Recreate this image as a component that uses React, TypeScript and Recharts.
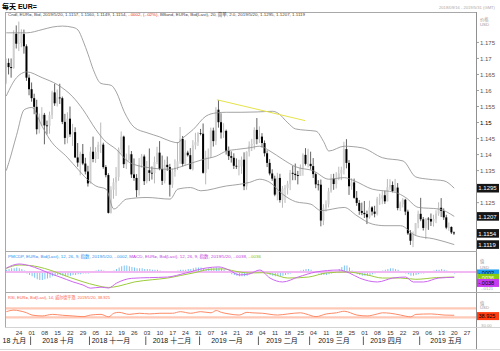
import React from 'react';
import { ComposedChart, Bar, Line, XAxis, YAxis, ReferenceLine } from 'recharts';

const FONT = "'Liberation Sans', 'Noto Sans CJK SC', sans-serif";

// trading-day index: 0 = 2018-09-17 ... 175 = 2019-05-20
const opens = [
  1.1625, 1.1686, 1.1673, 1.1670, 1.1777, 1.1746, 1.1748, 1.1776, 1.1738, 1.1640,
  1.1604, 1.1576, 1.1549, 1.1479, 1.1512, 1.1524, 1.1491, 1.1490, 1.1523, 1.1594,
  1.1560, 1.1578, 1.1576, 1.1502, 1.1452, 1.1512, 1.1463, 1.1470, 1.1391, 1.1375,
  1.1402, 1.1372, 1.1347, 1.1310, 1.1409, 1.1386, 1.1408, 1.1430, 1.1431, 1.1361,
  1.1336, 1.1218, 1.1290, 1.1313, 1.1330, 1.1416, 1.1456, 1.1370, 1.1384, 1.1401,
  1.1338, 1.1327, 1.1289, 1.1369, 1.1394, 1.1317, 1.1351, 1.1343, 1.1342, 1.1377,
  1.1406, 1.1355, 1.1318, 1.1368, 1.1361, 1.1306, 1.1347, 1.1360, 1.1379, 1.1449,
  1.1371, 1.1406, 1.1398, 1.1355, 1.1429, 1.1439, 1.1467, 1.1465, 1.1343, 1.1392,
  1.1394, 1.1475, 1.1442, 1.1540, 1.1501, 1.1469, 1.1474, 1.1412, 1.1395, 1.1390,
  1.1365, 1.1363, 1.1363, 1.1384, 1.1301, 1.1409, 1.1428, 1.1433, 1.1477, 1.1448,
  1.1456, 1.1436, 1.1404, 1.1374, 1.1341, 1.1325, 1.1275, 1.1327, 1.1258, 1.1294,
  1.1295, 1.1309, 1.1343, 1.1340, 1.1336, 1.1333, 1.1359, 1.1399, 1.1371, 1.1371,
  1.1364, 1.1339, 1.1307, 1.1306, 1.1194, 1.1234, 1.1245, 1.1285, 1.1325, 1.1308,
  1.1325, 1.1341, 1.1352, 1.1417, 1.1374, 1.1301, 1.1313, 1.1265, 1.1249, 1.1224,
  1.1218, 1.1214, 1.1204, 1.1235, 1.1222, 1.1215, 1.1262, 1.1263, 1.1273, 1.1254,
  1.1298, 1.1305, 1.1286, 1.1297, 1.1233, 1.1245, 1.1259, 1.1222, 1.1154, 1.1131,
  1.1150, 1.1186, 1.1215, 1.1198, 1.1171, 1.1200, 1.1199, 1.1191, 1.1199, 1.1216,
  1.1234, 1.1224, 1.1204, 1.1172, 1.1174, 1.1157,
];
const highs = [
  1.1700, 1.1700, 1.1700, 1.1788, 1.1803, 1.1815, 1.1791, 1.1790, 1.1744, 1.1650,
  1.1625, 1.1590, 1.1571, 1.1528, 1.1548, 1.1530, 1.1506, 1.1534, 1.1599, 1.1621,
  1.1603, 1.1621, 1.1581, 1.1527, 1.1532, 1.1550, 1.1496, 1.1485, 1.1436, 1.1409,
  1.1433, 1.1390, 1.1365, 1.1424, 1.1456, 1.1423, 1.1440, 1.1500, 1.1437, 1.1367,
  1.1342, 1.1301, 1.1326, 1.1361, 1.1422, 1.1472, 1.1459, 1.1403, 1.1429, 1.1411,
  1.1388, 1.1339, 1.1389, 1.1402, 1.1400, 1.1380, 1.1419, 1.1363, 1.1394, 1.1424,
  1.1442, 1.1397, 1.1384, 1.1394, 1.1371, 1.1356, 1.1385, 1.1439, 1.1486, 1.1458,
  1.1445, 1.1412, 1.1420, 1.1445, 1.1468, 1.1470, 1.1480, 1.1497, 1.1412, 1.1419,
  1.1484, 1.1484, 1.1548, 1.1570, 1.1529, 1.1498, 1.1478, 1.1425, 1.1410, 1.1404,
  1.1388, 1.1384, 1.1394, 1.1407, 1.1410, 1.1441, 1.1449, 1.1485, 1.1514, 1.1488,
  1.1467, 1.1444, 1.1413, 1.1386, 1.1354, 1.1334, 1.1343, 1.1340, 1.1302, 1.1305,
  1.1318, 1.1352, 1.1365, 1.1372, 1.1349, 1.1369, 1.1404, 1.1420, 1.1418, 1.1409,
  1.1389, 1.1344, 1.1320, 1.1322, 1.1245, 1.1257, 1.1296, 1.1339, 1.1340, 1.1345,
  1.1362, 1.1362, 1.1440, 1.1448, 1.1383, 1.1326, 1.1325, 1.1286, 1.1258, 1.1250,
  1.1255, 1.1225, 1.1256, 1.1239, 1.1240, 1.1268, 1.1278, 1.1286, 1.1287, 1.1324,
  1.1323, 1.1316, 1.1324, 1.1311, 1.1253, 1.1264, 1.1262, 1.1228, 1.1164, 1.1160,
  1.1186, 1.1225, 1.1265, 1.1205, 1.1201, 1.1205, 1.1216, 1.1212, 1.1226, 1.1251,
  1.1264, 1.1232, 1.1212, 1.1188, 1.1176, 1.1160,
];
const lows = [
  1.1620, 1.1650, 1.1640, 1.1668, 1.1731, 1.1723, 1.1735, 1.1715, 1.1630, 1.1585,
  1.1565, 1.1526, 1.1463, 1.1466, 1.1489, 1.1432, 1.1463, 1.1465, 1.1511, 1.1552,
  1.1550, 1.1558, 1.1495, 1.1432, 1.1435, 1.1455, 1.1427, 1.1389, 1.1362, 1.1335,
  1.1367, 1.1338, 1.1300, 1.1310, 1.1376, 1.1374, 1.1386, 1.1405, 1.1356, 1.1329,
  1.1216, 1.1216, 1.1262, 1.1271, 1.1318, 1.1403, 1.1358, 1.1355, 1.1380, 1.1327,
  1.1318, 1.1267, 1.1272, 1.1359, 1.1305, 1.1310, 1.1317, 1.1322, 1.1310, 1.1370,
  1.1351, 1.1305, 1.1310, 1.1349, 1.1269, 1.1296, 1.1331, 1.1352, 1.1371, 1.1363,
  1.1366, 1.1394, 1.1353, 1.1350, 1.1416, 1.1427, 1.1460, 1.1340, 1.1307, 1.1354,
  1.1390, 1.1425, 1.1430, 1.1484, 1.1450, 1.1452, 1.1400, 1.1383, 1.1375, 1.1355,
  1.1355, 1.1335, 1.1340, 1.1289, 1.1290, 1.1394, 1.1411, 1.1416, 1.1432, 1.1436,
  1.1422, 1.1394, 1.1361, 1.1335, 1.1318, 1.1270, 1.1257, 1.1250, 1.1234, 1.1249,
  1.1275, 1.1289, 1.1320, 1.1320, 1.1307, 1.1333, 1.1334, 1.1366, 1.1360, 1.1353,
  1.1327, 1.1295, 1.1288, 1.1176, 1.1180, 1.1222, 1.1235, 1.1281, 1.1290, 1.1294,
  1.1320, 1.1320, 1.1338, 1.1357, 1.1274, 1.1290, 1.1262, 1.1240, 1.1212, 1.1211,
  1.1202, 1.1183, 1.1200, 1.1210, 1.1204, 1.1210, 1.1243, 1.1245, 1.1246, 1.1254,
  1.1290, 1.1282, 1.1284, 1.1226, 1.1224, 1.1235, 1.1211, 1.1149, 1.1118, 1.1111,
  1.1148, 1.1170, 1.1192, 1.1163, 1.1136, 1.1165, 1.1177, 1.1175, 1.1186, 1.1209,
  1.1205, 1.1196, 1.1167, 1.1162, 1.1152, 1.1149,
];
const closes = [
  1.1686, 1.1673, 1.1670, 1.1777, 1.1746, 1.1748, 1.1776, 1.1738, 1.1640, 1.1604,
  1.1576, 1.1549, 1.1479, 1.1512, 1.1524, 1.1491, 1.1490, 1.1523, 1.1594, 1.1560,
  1.1578, 1.1576, 1.1502, 1.1452, 1.1512, 1.1463, 1.1470, 1.1391, 1.1375, 1.1402,
  1.1372, 1.1347, 1.1310, 1.1409, 1.1386, 1.1408, 1.1430, 1.1431, 1.1361, 1.1336,
  1.1218, 1.1290, 1.1313, 1.1330, 1.1416, 1.1456, 1.1370, 1.1384, 1.1401, 1.1338,
  1.1327, 1.1289, 1.1369, 1.1394, 1.1317, 1.1351, 1.1343, 1.1342, 1.1377, 1.1406,
  1.1355, 1.1318, 1.1368, 1.1361, 1.1306, 1.1347, 1.1360, 1.1379, 1.1449, 1.1371,
  1.1406, 1.1398, 1.1355, 1.1429, 1.1439, 1.1467, 1.1465, 1.1343, 1.1392, 1.1394,
  1.1475, 1.1442, 1.1540, 1.1501, 1.1469, 1.1474, 1.1412, 1.1395, 1.1390, 1.1365,
  1.1363, 1.1363, 1.1384, 1.1301, 1.1409, 1.1428, 1.1433, 1.1477, 1.1448, 1.1456,
  1.1436, 1.1404, 1.1374, 1.1341, 1.1325, 1.1275, 1.1327, 1.1258, 1.1294, 1.1295,
  1.1309, 1.1343, 1.1340, 1.1336, 1.1333, 1.1359, 1.1399, 1.1371, 1.1371, 1.1364,
  1.1339, 1.1307, 1.1306, 1.1194, 1.1234, 1.1245, 1.1285, 1.1325, 1.1308, 1.1325,
  1.1341, 1.1352, 1.1417, 1.1374, 1.1301, 1.1313, 1.1265, 1.1249, 1.1224, 1.1218,
  1.1214, 1.1204, 1.1235, 1.1222, 1.1215, 1.1262, 1.1263, 1.1273, 1.1254, 1.1298,
  1.1305, 1.1286, 1.1297, 1.1233, 1.1245, 1.1259, 1.1222, 1.1154, 1.1131, 1.1150,
  1.1186, 1.1215, 1.1198, 1.1171, 1.1200, 1.1199, 1.1191, 1.1199, 1.1216, 1.1234,
  1.1224, 1.1204, 1.1172, 1.1174, 1.1157, 1.1154,
];

// Bollinger bands (20, 2.0)
const upperIdx = [0, 8, 14, 18, 22, 26, 28, 30, 32, 34, 37, 41, 43, 46, 50, 55, 60, 64, 67, 69, 73, 78, 82, 86, 92, 98, 104, 106, 110, 113, 117, 121, 124, 126, 132, 139, 147, 155, 160, 165, 171, 175];
const upperVal = [1.1780, 1.1780, 1.1790, 1.1798, 1.1801, 1.1797, 1.1789, 1.1755, 1.1712, 1.1665, 1.1622, 1.1616, 1.1595, 1.1535, 1.1485, 1.1468, 1.1455, 1.1442, 1.1437, 1.1452, 1.1478, 1.1520, 1.1530, 1.1532, 1.1532, 1.1533, 1.1535, 1.1530, 1.1499, 1.1480, 1.1476, 1.1473, 1.1440, 1.1411, 1.1426, 1.1421, 1.1390, 1.1380, 1.1330, 1.1323, 1.1318, 1.1295];
const midIdx = [0, 4, 8, 14, 20, 26, 30, 35, 38, 43, 48, 55, 64, 69, 73, 77, 82, 86, 90, 95, 99, 103, 108, 113, 120, 126, 132, 136, 143, 152, 156, 161, 169, 175];
const midVal = [1.1583, 1.1640, 1.1658, 1.1640, 1.1618, 1.1580, 1.1540, 1.1478, 1.1447, 1.1416, 1.1376, 1.1360, 1.1354, 1.1364, 1.1375, 1.1385, 1.1395, 1.1411, 1.1416, 1.1421, 1.1426, 1.1411, 1.1385, 1.1362, 1.1349, 1.1323, 1.1328, 1.1318, 1.1292, 1.1282, 1.1266, 1.1235, 1.1230, 1.1207];
const lowerIdx = [0, 1, 4, 7, 10, 14, 17, 24, 28, 33, 35, 39, 42, 47, 55, 64, 67, 72, 76, 86, 91, 95, 99, 103, 108, 113, 119, 123, 132, 137, 143, 148, 154, 160, 167, 175];
const lowerVal = [1.1350, 1.1375, 1.1460, 1.1540, 1.1547, 1.1488, 1.1447, 1.1390, 1.1354, 1.1313, 1.1302, 1.1292, 1.1230, 1.1261, 1.1266, 1.1261, 1.1292, 1.1297, 1.1287, 1.1302, 1.1307, 1.1313, 1.1323, 1.1313, 1.1276, 1.1253, 1.1245, 1.1225, 1.1235, 1.1209, 1.1183, 1.1178, 1.1178, 1.1147, 1.1137, 1.1119];

// yellow trend line (drawn annotation)
const trendStart = { x: 82.3, y: 1.1571 };
const trendEnd = { x: 116.7, y: 1.1506 };

// MACD (12, 26, 9)
const macdHist = [
  0.0003, 0.0004, 0.0005, 0.0005, 0.0006, 0.0005, 0.0004, 0.0002, -0.0002, -0.0004,
  -0.0006, -0.0008, -0.0010, -0.0011, -0.0011, -0.0010, -0.0009, -0.0008, -0.0006, -0.0005,
  -0.0004, -0.0004, -0.0005, -0.0006, -0.0005, -0.0005, -0.0004, -0.0004, -0.0003, -0.0003,
  -0.0002, -0.0002, -0.0002, -0.0001, 0.0001, 0.0002, 0.0003, 0.0003, 0.0002, 0.0001,
  -0.0001, 0.0000, 0.0002, 0.0004, 0.0006, 0.0008, 0.0009, 0.0009, 0.0008, 0.0007,
  0.0006, 0.0005, 0.0005, 0.0005, 0.0004, 0.0004, 0.0004, 0.0003, 0.0003, 0.0003,
  0.0002, 0.0001, 0.0001, 0.0001, 0.0000, 0.0001, 0.0001, 0.0002, 0.0003, 0.0003,
  0.0003, 0.0004, 0.0004, 0.0005, 0.0006, 0.0006, 0.0006, 0.0005, 0.0004, 0.0005,
  0.0005, 0.0005, 0.0006, 0.0006, 0.0005, 0.0003, 0.0001, -0.0001, -0.0003, -0.0004,
  -0.0005, -0.0006, -0.0006, -0.0006, -0.0005, -0.0003, -0.0001, 0.0001, 0.0002, 0.0002,
  0.0001, 0.0000, -0.0002, -0.0004, -0.0005, -0.0006, -0.0006, -0.0006, -0.0005, -0.0004,
  -0.0003, -0.0002, -0.0001, 0.0000, 0.0001, 0.0002, 0.0003, 0.0004, 0.0004, 0.0003,
  0.0001, -0.0001, -0.0002, -0.0004, -0.0004, -0.0004, -0.0003, -0.0002, -0.0001, 0.0001,
  0.0004, 0.0007, 0.0009, 0.0009, 0.0006, 0.0002, -0.0001, -0.0003, -0.0004, -0.0005,
  -0.0005, -0.0005, -0.0004, -0.0003, -0.0002, -0.0001, 0.0001, 0.0002, 0.0003, 0.0004,
  0.0005, 0.0005, 0.0004, 0.0003, 0.0001, 0.0000, -0.0002, -0.0003, -0.0005, -0.0005,
  -0.0004, -0.0003, -0.0002, -0.0002, -0.0001, 0.0000, 0.0001, 0.0002, 0.0003, 0.0003,
  0.0004, 0.0003, 0.0002, 0.0001, 0.0000, -0.0002,
];
const macdIdx = [0, 5, 9, 13, 17, 21, 26, 30, 33, 37, 40, 43, 49, 56, 63, 70, 78, 83, 87, 91, 95, 99, 103, 108, 114, 121, 130, 134, 138, 145, 151, 156, 159, 163, 169, 175];
const macdVal = [0.0028, 0.0057, 0.0045, 0.0020, -0.0010, -0.0036, -0.0070, -0.0093, -0.0115, -0.0108, -0.0114, -0.0080, -0.0045, -0.0040, -0.0036, -0.0008, 0.0028, 0.0036, 0.0014, -0.0021, -0.0014, 0.0014, -0.0043, -0.0071, -0.0036, 0.0000, 0.0014, -0.0007, -0.0043, -0.0071, -0.0043, -0.0036, -0.0071, -0.0071, -0.0043, -0.0038];
const signalIdx = [0, 5, 10, 15, 20, 25, 30, 35, 40, 44, 50, 57, 63, 68, 73, 80, 85, 89, 95, 100, 104, 110, 118, 125, 133, 141, 147, 154, 160, 168, 175];
const signalVal = [0.0025, 0.0050, 0.0045, 0.0025, -0.0005, -0.0040, -0.0070, -0.0095, -0.0110, -0.0100, -0.0071, -0.0055, -0.0043, -0.0025, -0.0007, 0.0020, 0.0022, 0.0007, -0.0007, -0.0005, -0.0015, -0.0043, -0.0036, -0.0007, 0.0000, -0.0021, -0.0043, -0.0043, -0.0052, -0.0040, -0.0036];

// RSI (14)
const rsiIdx = [0, 3, 5, 8, 10, 14, 18, 22, 26, 30, 33, 37, 40, 42, 44, 48, 52, 56, 60, 65, 68, 72, 76, 80, 82, 84, 87, 91, 94, 96, 100, 106, 110, 115, 117, 121, 125, 129, 132, 137, 141, 145, 147, 150, 154, 158, 160, 166, 171, 175];
const rsiVal = [55, 62, 59, 50, 40, 36, 43, 39, 36, 33, 40, 43, 32, 48, 52, 43, 48, 45, 48, 48, 55, 48, 55, 50, 60, 52, 45, 40, 52, 50, 48, 40, 45, 50, 45, 33, 45, 50, 57, 40, 36, 45, 50, 48, 40, 32, 43, 45, 40, 38.925];

// axis labels
const priceTicks = [1.1119, 1.1154, 1.1207, 1.125, 1.1295, 1.135, 1.14, 1.145, 1.15, 1.155, 1.16, 1.165, 1.17, 1.175];
const priceTags = [1.1119, 1.1154, 1.1207, 1.1295];
const dayTickIdx = [5, 10, 15, 20, 25, 30, 35, 40, 45, 50, 55, 60, 65, 70, 75, 80, 85, 90, 95, 100, 105, 110, 115, 120, 125, 130, 135, 140, 145, 150, 155, 160, 165, 170, 175, 180];
const dayTickLabels = ['24', '01', '08', '15', '22', '29', '05', '12', '19', '26', '03', '10', '17', '24', '31', '07', '14', '21', '28', '04', '11', '18', '25', '04', '11', '18', '25', '01', '08', '15', '22', '29', '06', '13', '20', '27'];
const monthTickIdx = [3.2, 9.5, 20.2, 32.5, 40.9, 54.5, 64.7, 75.5, 86.2, 98.5, 107.7, 118.5, 128, 139.5, 148.3, 161.5, 171.8];
const monthTickLabels = ['18 九月', '|', '2018 十月', '|', '2018 十一月', '|', '2018 十二月', '|', '2019 一月', '|', '2019 二月', '|', '2019 三月', '|', '2019 四月', '|', '2019 五月'];

const candles = closes.map((c, i) => ({ i, open: opens[i], high: highs[i], low: lows[i], close: c }));
const pts = (idx: number[], val: number[]) => idx.map((i, k) => ({ i, v: val[k] }));
const upperData = pts(upperIdx, upperVal);
const midData = pts(midIdx, midVal);
const lowerData = pts(lowerIdx, lowerVal);
const histData = macdHist.map((h, i) => ({ i, h }));
const macdData = pts(macdIdx, macdVal);
const signalData = pts(signalIdx, signalVal);
const rsiData = pts(rsiIdx, rsiVal);

const X_DOMAIN: [number, number] = [-0.5, 183.5];

const CandleShape = (props: any) => {
  const { x, y, width, height, payload } = props;
  if (!payload || y == null || height == null) return null;
  const top = Math.min(y, y + height);
  const h = Math.abs(height);
  const span = payload.high - payload.low;
  const k = span > 0 ? h / span : 0;
  const yO = top + (payload.high - payload.open) * k;
  const yC = top + (payload.high - payload.close) * k;
  const cx = x + width / 2;
  const up = payload.close >= payload.open;
  const bTop = Math.min(yO, yC);
  const bH = Math.max(Math.abs(yC - yO), 0.8);
  return (
    <g>
      <line x1={cx} x2={cx} y1={top} y2={top + h} stroke={up ? '#a8a8a8' : '#3a3a3a'} strokeWidth={0.8} />
      <rect x={cx - 1} y={bTop} width={2} height={bH} fill={up ? '#cfcfcf' : '#000'} />
    </g>
  );
};

const PriceTick = (props: any) => {
  const { y, payload } = props;
  const v = payload.value;
  if (priceTags.includes(v)) {
    return (
      <g>
        <rect x={477} y={y - 4.3} width={22} height={8.6} fill="#161616" />
        <text x={478.3} y={y + 2.2} fontSize={6} fill="#fff" fontFamily={FONT}>{v.toFixed(4)}</text>
      </g>
    );
  }
  return (
    <g>
      <line x1={476} x2={479} y1={y} y2={y} stroke="#777" strokeWidth={0.7} />
      <text x={480} y={y + 2.1} fontSize={6} fill={v === 1.15 ? '#000' : '#555'} fontFamily={FONT}>{String(v)}</text>
    </g>
  );
};

const TagLabel = (props: any) => {
  const { viewBox, text, bg, fg, dy } = props;
  if (!viewBox) return null;
  const left = viewBox.x + viewBox.width + 1;
  const cy = viewBox.y + (dy || 0);
  return (
    <g>
      <rect x={left} y={cy - 4} width={22} height={8} fill={bg} />
      <text x={left + 1.5} y={cy + 2} fontSize={5.5} fill={fg} fontFamily={FONT}>{text}</text>
    </g>
  );
};

const DayTick = (props: any) => {
  const { x, payload } = props;
  const k = dayTickIdx.indexOf(payload.value);
  return (
    <text x={x} y={42} textAnchor="middle" fontSize={6} fill="#333" fontFamily={FONT}>{dayTickLabels[k]}</text>
  );
};

const MonthTick = (props: any) => {
  const { x, payload } = props;
  const k = monthTickIdx.indexOf(payload.value);
  const lab = monthTickLabels[k];
  if (lab === '|') return <line x1={x} x2={x} y1={43.5} y2={52} stroke="#333" strokeWidth={0.8} />;
  return (
    <text x={x} y={50} textAnchor="middle" fontSize={7} fill="#111" fontFamily={FONT}>{lab}</text>
  );
};

const abs = (top: number, height: number): React.CSSProperties => ({ position: 'absolute', left: 0, top, width: 500, height });

export default function App() {
  return (
    <div style={{ position: 'absolute', left: 0, top: 0, width: 500, height: 351, background: '#fff', overflow: 'hidden' }}>
      {/* main price panel */}
      <div style={abs(0, 252)}>
        <ComposedChart width={500} height={252} data={candles} margin={{ top: 20, right: 0, bottom: 1, left: 5 }}>
          <XAxis dataKey="i" type="number" domain={X_DOMAIN} hide allowDataOverflow />
          <YAxis orientation="right" width={24} domain={[1.1099, 1.182]} allowDataOverflow ticks={priceTicks} interval={0} tick={<PriceTick />} axisLine={false} tickLine={false} />
          <Line data={upperData} dataKey="v" type="monotone" dot={false} stroke="#8c8c8c" strokeWidth={0.8} isAnimationActive={false} />
          <Line data={midData} dataKey="v" type="monotone" dot={false} stroke="#8c8c8c" strokeWidth={0.8} isAnimationActive={false} />
          <Line data={lowerData} dataKey="v" type="monotone" dot={false} stroke="#8c8c8c" strokeWidth={0.8} isAnimationActive={false} />
          <Bar dataKey={(d: any) => [d.low, d.high]} barSize={2} shape={<CandleShape />} isAnimationActive={false} />
          <ReferenceLine segment={[trendStart, trendEnd]} stroke="#e6e34a" strokeWidth={1} />
        </ComposedChart>
      </div>

      {/* MACD panel */}
      <div style={abs(252, 41)}>
        <ComposedChart width={500} height={41} data={histData} margin={{ top: 0, right: 24, bottom: 0, left: 5 }}>
          <XAxis dataKey="i" type="number" domain={X_DOMAIN} hide allowDataOverflow />
          <YAxis yAxisId="h" hide domain={[-0.00288, 0.00274]} allowDataOverflow />
          <YAxis yAxisId="m" hide domain={[-0.01495, 0.01423]} allowDataOverflow />
          <ReferenceLine yAxisId="m" y={0} stroke="#f2b8f2" strokeWidth={2} />
          <Bar yAxisId="h" dataKey="h" barSize={1} fill="#7cc2f2" isAnimationActive={false} />
          <Line yAxisId="m" data={signalData} dataKey="v" type="monotone" dot={false} stroke="#9ccc3c" strokeWidth={1} isAnimationActive={false} />
          <Line yAxisId="m" data={macdData} dataKey="v" type="monotone" dot={false} stroke="#cc66f0" strokeWidth={1} isAnimationActive={false} />
          <ReferenceLine yAxisId="h" y={-0.0002} strokeOpacity={0} label={<TagLabel text="-.0002" bg="#1e9cf5" fg="#000" dy={0} />} />
          <ReferenceLine yAxisId="m" y={-0.0036} strokeOpacity={0} label={<TagLabel text="-.0036" bg="#88cc10" fg="#fff" dy={0.8} />} />
          <ReferenceLine yAxisId="m" y={-0.0038} strokeOpacity={0} label={<TagLabel text="-.0038" bg="#c63cf0" fg="#000" dy={5.6} />} />
        </ComposedChart>
      </div>

      {/* RSI panel + date axes */}
      <div style={abs(293, 58)}>
        <ComposedChart width={500} height={58} data={rsiData} margin={{ top: 7, right: 24, bottom: 0, left: 5 }}>
          <XAxis dataKey="i" type="number" domain={X_DOMAIN} allowDataOverflow ticks={dayTickIdx} interval={0} tick={<DayTick />} axisLine={false} tickLine={false} height={10} />
          <XAxis xAxisId="m" dataKey="i" type="number" domain={X_DOMAIN} allowDataOverflow ticks={monthTickIdx} interval={0} tick={<MonthTick />} axisLine={false} tickLine={false} height={14} />
          <YAxis hide domain={[-13.1, 106.9]} allowDataOverflow />
          <ReferenceLine y={70} stroke="#ffc9b8" strokeWidth={2.2} />
          <ReferenceLine y={30} stroke="#ffc9b8" strokeWidth={2.2} />
          <Line dataKey="v" type="monotone" dot={false} stroke="#ff8a66" strokeWidth={1} isAnimationActive={false} />
          <ReferenceLine y={38.925} strokeOpacity={0} label={<TagLabel text="38.925" bg="#ff3d10" fg="#000" dy={0.8} />} />
        </ComposedChart>
      </div>

      {/* frame, titles and legends */}
      <svg width={500} height={351} style={{ position: 'absolute', left: 0, top: 0, pointerEvents: 'none' }} fontFamily={FONT}>
        <text x={2} y={8.6} fontSize={7} fontWeight="bold" fill="#000">每天 EUR=</text>
        <text x={439} y={8.5} fontSize={4.4} fill="#aaa" textLength={56} lengthAdjust="spacingAndGlyphs">2018/09/16 - 2019/5/31 (GMT)</text>
        <line x1={5} x2={477} y1={12.5} y2={12.5} stroke="#a8a8a8" strokeWidth={1} />
        <line x1={5.5} x2={5.5} y1={12} y2={327.5} stroke="#a8a8a8" strokeWidth={1} />
        <line x1={476.5} x2={476.5} y1={12} y2={349} stroke="#909090" strokeWidth={1} />
        <line x1={5} x2={477} y1={251.5} y2={251.5} stroke="#a8a8a8" strokeWidth={1} />
        <line x1={5} x2={500} y1={292.5} y2={292.5} stroke="#a8a8a8" strokeWidth={1} />
        <line x1={5} x2={500} y1={327.5} y2={327.5} stroke="#c8c8c8" strokeWidth={0.8} />
        <line x1={0} x2={500} y1={349.5} y2={349.5} stroke="#d0d0d0" strokeWidth={0.8} />

        <text x={8} y={16.4} fontSize={4.3} fill="#444" textLength={297} lengthAdjust="spacingAndGlyphs">
          <tspan>Cndl, EUR=, Bid, 2019/5/20, 1.1157, 1.1160, 1.1149, 1.1154, </tspan>
          <tspan fill="#e03030">-.0002, (-.02%), </tspan>
          <tspan>BBand, EUR=, Bid(Last), 20, 简单, 2.0, 2019/5/20, 1.1295, 1.1207, 1.1119</tspan>
        </text>
        <text x={480} y={20.5} fontSize={4.3} fill="#999">价格</text>
        <text x={480} y={25.8} fontSize={4.3} fill="#999">USD</text>

        <text x={8} y={258.3} fontSize={4.3} textLength={253} lengthAdjust="spacingAndGlyphs">
          <tspan fill="#2b8ff0">PMCDP, EUR=, Bid(Last), 12, 26, 9, 指数, 2019/5/20, -.0002, </tspan>
          <tspan fill="#c040e0">MACD, EUR=, Bid(Last), 12, 26, 9, 指数, 2019/5/20, -.0038, </tspan>
          <tspan fill="#80c020">-.0036</tspan>
        </text>
        <text x={480} y={263.3} fontSize={4.3} fill="#999">值</text>
        <text x={480} y={268.8} fontSize={4.3} fill="#999">USD</text>
        <text x={481} y={290} fontSize={4.3} fill="#aaa">-.0121</text>

        <text x={8} y={298.6} fontSize={4.3} fill="#ff6040" textLength={102} lengthAdjust="spacingAndGlyphs">RSI, EUR=, Bid(Last), 14, 威尔德平滑, 2019/5/20, 38.925</text>
        <text x={480} y={304.5} fontSize={4.3} fill="#999">值</text>
        <text x={480} y={308.6} fontSize={4.3} fill="#999">USD</text>
        <text x={481} y={326.6} fontSize={4.3} fill="#aaa">30.00</text>
      </svg>
    </div>
  );
}
